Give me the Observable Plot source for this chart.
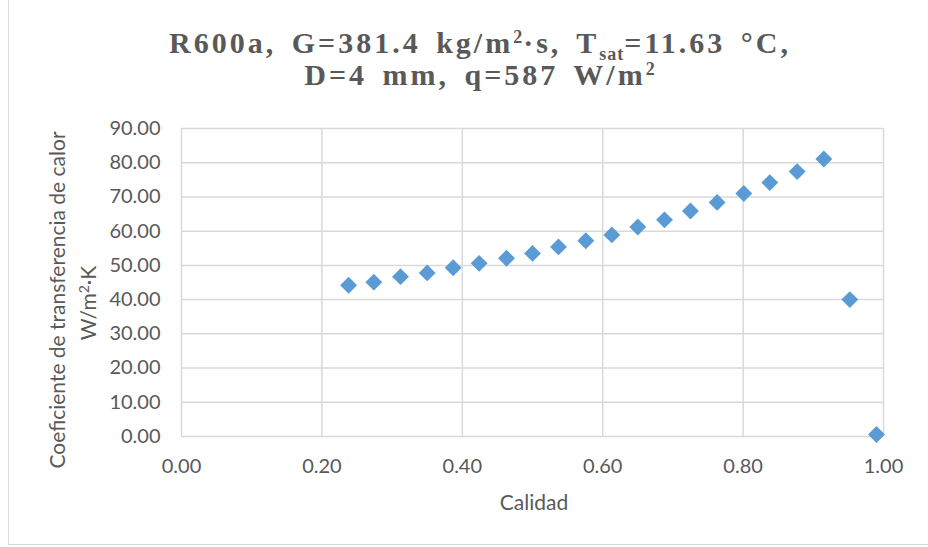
<!DOCTYPE html>
<html><head><meta charset="utf-8">
<script src="https://cdn.jsdelivr.net/npm/d3@7"></script>
<script src="https://cdn.jsdelivr.net/npm/@observablehq/plot@0.6"></script>
<style>
html,body{margin:0;padding:0;background:#fff;}
#wrap{position:relative;width:928px;height:547px;overflow:hidden;font-family:Lato,sans-serif;}
#border{position:absolute;left:8px;top:-2px;width:940px;height:547px;border-left:1.5px solid #d9d9d9;border-bottom:1.5px solid #d9d9d9;box-sizing:border-box;}
#title{position:absolute;left:0;width:960px;top:27px;text-align:center;font-family:"Liberation Serif","Times New Roman",serif;font-weight:bold;font-size:30px;line-height:32px;color:#595959;letter-spacing:3px;word-spacing:5px;}
#title sup{font-size:18px;vertical-align:10px;line-height:0;letter-spacing:1px;}
#title sub{font-size:18px;vertical-align:-7px;line-height:0;letter-spacing:1px;}
.ylab{position:absolute;left:0;top:0;width:440px;text-align:center;color:#595959;font-size:21px;white-space:nowrap;line-height:24px;}
#xlab{position:absolute;left:434px;width:200px;top:489px;text-align:center;color:#595959;font-size:21px;}
#chart{position:absolute;left:0;top:0;}
</style></head>
<body>
<div id="wrap">
  <div id="border"></div>
  <div id="chart"></div>
  <div id="title">R600a, G=381.4 kg/m<sup>2</sup>·s, T<sub>sat</sub>=11.63 °C,<br>D=4 mm, q=587 W/m<sup>2</sup></div>
  <div class="ylab" id="yl1">Coeficiente de transferencia de calor</div>
  <div class="ylab" id="yl2">W/m<sup style="font-size:14px;vertical-align:7px;line-height:0">2</sup>·K</div>
  <div id="xlab">Calidad</div>
</div>
<script>
const calidad = [0.238,0.274,0.312,0.350,0.387,0.424,0.463,0.500,0.537,0.576,0.613,0.650,0.688,0.725,0.763,0.801,0.838,0.877,0.915,0.952,0.990];
const coeficiente = [44.2,45.1,46.7,47.8,49.3,50.6,52.1,53.5,55.4,57.2,58.9,61.2,63.3,65.9,68.4,71.0,74.2,77.4,81.1,40.0,0.6];
const xTicks = [0,0.2,0.4,0.6,0.8,1.0];
const yTicks = [0,10,20,30,40,50,60,70,80,90];

const data = calidad.map((x,i)=>({x, y: coeficiente[i]}));
const fmt = d3.format(".2f");
const grid = "#d9d9d9";

const plot = Plot.plot({
  width: 928, height: 547,
  marginLeft: 181, marginRight: 45, marginTop: 128, marginBottom: 111,
  style: {fontFamily: "Lato, sans-serif", color: "#595959", background: "transparent"},
  x: {domain: [0,1]},
  y: {domain: [0,90]},
  marks: [
    Plot.gridX(xTicks, {stroke: grid, strokeOpacity: 1, strokeWidth: 1.5}),
    Plot.gridY(yTicks, {stroke: grid, strokeOpacity: 1, strokeWidth: 1.5}),
    Plot.axisX(xTicks, {tickSize: 0, tickPadding: 22, tickFormat: fmt, fontSize: 20, label: null, fill: "#595959"}),
    Plot.axisY(yTicks, {tickSize: 0, tickPadding: 21, tickFormat: fmt, fontSize: 20, label: null, fill: "#595959"}),
    Plot.dot(data, {x: "x", y: "y", symbol: "diamond2", r: 7.6, fill: "#5b9bd5", stroke: "none"})
  ]
});
document.getElementById("chart").appendChild(plot);

function placeY(id, cx, cy){
  const el = document.getElementById(id);
  el.style.left = (cx - 220) + "px";
  el.style.top = (cy - 12) + "px";
  el.style.transform = "rotate(-90deg)";
  el.style.transformOrigin = "220px 12px";
}
placeY("yl1", 57, 300);
placeY("yl2", 88, 303);
</script>
</body></html>
